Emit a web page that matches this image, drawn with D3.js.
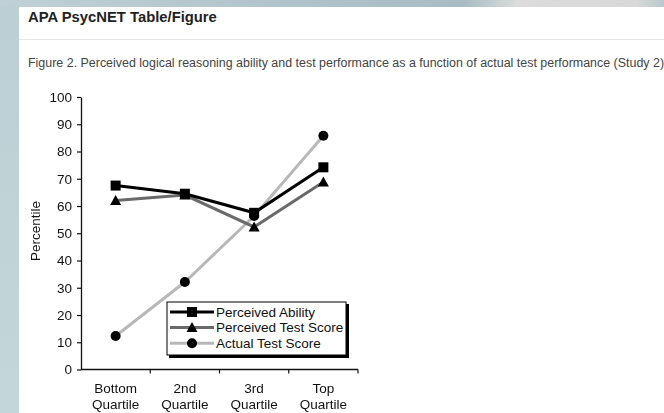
<!DOCTYPE html>
<html>
<head>
<meta charset="utf-8">
<script src="https://cdn.jsdelivr.net/npm/d3@7/dist/d3.min.js"></script>
<style>
  html, body { margin: 0; padding: 0; }
  body { width: 664px; height: 413px; overflow: hidden; }
</style>
</head>
<body>
<div id="chart"></div>
<script>
// Quartile groups along the x axis
const categories = ["Bottom Quartile", "2nd Quartile", "3rd Quartile", "Top Quartile"];
// Percentile values per series
const perceivedAbility = [67.5, 64.5, 57.5, 74.2];
const perceivedTestScore = [62, 64, 52.3, 68.8];
const actualTestScore = [12.3, 32.1, 56.3, 85.8];
const seriesNames = ["Perceived Ability", "Perceived Test Score", "Actual Test Score"];
const yTicks = [0, 10, 20, 30, 40, 50, 60, 70, 80, 90, 100];

const W = 664, H = 413;
const svg = d3.select("#chart").append("svg")
  .attr("width", W).attr("height", H)
  .style("display", "block");

// Page backdrop
const defs = svg.append("defs");
const gL = defs.append("linearGradient").attr("id", "bgL")
  .attr("x1", 0).attr("y1", 0).attr("x2", 0).attr("y2", 1);
gL.append("stop").attr("offset", "0%").attr("stop-color", "#bccfd5");
gL.append("stop").attr("offset", "100%").attr("stop-color", "#c3d6d8");
const gT = defs.append("linearGradient").attr("id", "bgT")
  .attr("x1", 0).attr("y1", 0).attr("x2", 1).attr("y2", 0);
gT.append("stop").attr("offset", "0%").attr("stop-color", "#bfd0d6");
gT.append("stop").attr("offset", "70%").attr("stop-color", "#a9bcc3");
gT.append("stop").attr("offset", "78%").attr("stop-color", "#dcdcdc");
gT.append("stop").attr("offset", "96%").attr("stop-color", "#d8d8d8");
gT.append("stop").attr("offset", "100%").attr("stop-color", "#b9c8cc");
svg.append("rect").attr("width", W).attr("height", H).attr("fill", "url(#bgL)");
svg.append("rect").attr("width", W).attr("height", 7).attr("fill", "url(#bgT)");
svg.append("rect").attr("x", 19).attr("y", 7).attr("width", W - 19).attr("height", H - 7).attr("fill", "#ffffff");

// Panel header
svg.append("text").attr("x", 28).attr("y", 22)
  .attr("font-family", "Liberation Sans, Arial, sans-serif")
  .attr("font-size", 14.8).attr("font-weight", "bold").attr("fill", "#222")
  .text("APA PsycNET Table/Figure");
svg.append("line").attr("x1", 19).attr("x2", W).attr("y1", 39.5).attr("y2", 39.5)
  .attr("stroke", "#e6e6e6").attr("stroke-width", 1);
svg.append("text").attr("x", 28).attr("y", 67)
  .attr("font-family", "Liberation Sans, Arial, sans-serif")
  .attr("font-size", 12.45).attr("fill", "#444")
  .text("Figure 2. Perceived logical reasoning ability and test performance as a function of actual test performance (Study 2)");

// Plot area
const x = d3.scaleBand().domain(categories).range([81, 358]);
const y = d3.scaleLinear().domain([0, 100]).range([369.5, 97]);
const font = "Liberation Sans, Arial, Helvetica, sans-serif";
const fs = 13.5;
const plot = svg.append("g").style("filter", "blur(0.35px)");

// Y axis
const yAxis = plot.append("g").attr("transform", "translate(81,0)")
  .call(d3.axisLeft(y).tickValues(yTicks).tickSize(4).tickPadding(5).tickSizeOuter(0));
yAxis.select(".domain").attr("stroke", "#111").attr("stroke-width", 1.3);
yAxis.selectAll(".tick line").attr("stroke", "#111").attr("stroke-width", 1.2);
yAxis.selectAll(".tick text").attr("font-family", font).attr("font-size", fs).attr("fill", "#111");

// X axis with ticks on the band boundaries
const xAxisG = plot.append("g").attr("transform", `translate(0,${y(0)})`);
xAxisG.append("line").attr("x1", 81).attr("x2", 358).attr("stroke", "#111").attr("stroke-width", 1.3);
const bounds = categories.map(c => x(c) + x.bandwidth());
xAxisG.selectAll("line.tk").data(bounds).join("line").attr("class", "tk")
  .attr("x1", d => d).attr("x2", d => d).attr("y1", 0).attr("y2", 4)
  .attr("stroke", "#111").attr("stroke-width", 1.2);
const xl = xAxisG.selectAll("text").data(categories).join("text")
  .attr("x", d => x(d) + x.bandwidth() / 2)
  .attr("text-anchor", "middle")
  .attr("font-family", font).attr("font-size", fs).attr("fill", "#111");
xl.append("tspan").attr("x", d => x(d) + x.bandwidth() / 2).attr("y", 23.5).text(d => d.split(" ")[0]);
xl.append("tspan").attr("x", d => x(d) + x.bandwidth() / 2).attr("y", 39).text(d => d.split(" ")[1]);

// Y label
plot.append("text").attr("transform", "translate(40,231) rotate(-90)")
  .attr("text-anchor", "middle").attr("font-family", font).attr("font-size", fs).attr("fill", "#111")
  .text("Percentile");

// Series
const series = [
  { name: seriesNames[0], values: perceivedAbility, color: "#000", shape: "square" },
  { name: seriesNames[1], values: perceivedTestScore, color: "#6a6a6a", shape: "triangle" },
  { name: seriesNames[2], values: actualTestScore, color: "#b8b8b8", shape: "circle" }
];
const cx = c => x(c) + x.bandwidth() / 2;
const line = d3.line().x(d => cx(d.c)).y(d => y(d.v));

function marker(g, shape, px, py) {
  if (shape === "square") {
    g.append("rect").attr("x", px - 5).attr("y", py - 5).attr("width", 10).attr("height", 10).attr("fill", "#000");
  } else if (shape === "triangle") {
    g.append("path").attr("d", `M${px},${py - 5.5}L${px + 5.5},${py + 4.5}L${px - 5.5},${py + 4.5}Z`).attr("fill", "#000");
  } else {
    g.append("circle").attr("cx", px).attr("cy", py).attr("r", 5).attr("fill", "#000");
  }
}

// Lines drawn lightest first so darker series sit on top
[2, 1, 0].forEach(i => {
  const s = series[i];
  const pts = categories.map((c, j) => ({ c, v: s.values[j] }));
  plot.append("path").datum(pts).attr("d", line)
    .attr("fill", "none").attr("stroke", s.color).attr("stroke-width", 3);
});
[2, 1, 0].forEach(i => {
  const s = series[i];
  const g = plot.append("g");
  categories.forEach((c, j) => marker(g, s.shape, cx(c), y(s.values[j])));
});

// Legend box with drop shadow
const lg = plot.append("g");
lg.append("rect").attr("x", 169).attr("y", 304).attr("width", 180).attr("height", 54).attr("fill", "#000");
lg.append("rect").attr("x", 167).attr("y", 302).attr("width", 179).attr("height", 53)
  .attr("fill", "#fff").attr("stroke", "#000").attr("stroke-width", 1);
series.forEach((s, i) => {
  const ly = 312 + i * 15.6;
  lg.append("line").attr("x1", 170).attr("x2", 214).attr("y1", ly).attr("y2", ly)
    .attr("stroke", s.color).attr("stroke-width", 3);
  marker(lg, s.shape, 192, ly);
  lg.append("text").attr("x", 216).attr("y", ly + 4.8)
    .attr("font-family", font).attr("font-size", fs).attr("fill", "#111").text(s.name);
});
</script>
</body>
</html>
